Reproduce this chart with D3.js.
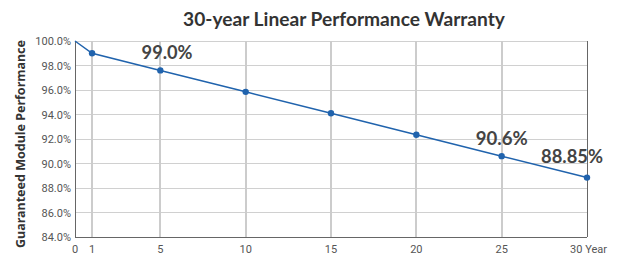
<!DOCTYPE html>
<html><head><meta charset="utf-8">
<script src="https://cdn.jsdelivr.net/npm/d3@7"></script>
<style>body{margin:0;background:#fff}</style>
</head><body>
<svg id="c" width="618" height="257"></svg>
<script>
const years = [0, 1, 5, 10, 15, 20, 25, 30];
const performance = [100, 99.0, 97.6, 95.85, 94.1, 92.35, 90.6, 88.85];
const xTicks = [0, 1, 5, 10, 15, 20, 25, 30];
const yTicks = [84, 86, 88, 90, 92, 94, 96, 98, 100];
const labels = [{year: 1, value: 99.0, text: "99.0%", dx: 75, dy: 6, w: 51}, {year: 25, value: 90.6, text: "90.6%", dx: 0, dy: -11, w: 52}, {year: 30, value: 88.85, text: "88.85%", dx: -15, dy: -15, w: 62}];
const title = "30-year Linear Performance Warranty";
const yTitle = "Guaranteed Module Performance";

const svg = d3.select("#c");
const m = {l: 75, r: 31, t: 41, b: 20};
const W = 618, H = 257;
const x = d3.scaleLinear().domain([0, 30]).range([m.l, W - m.r]);
const y = d3.scaleLinear().domain([84, 100]).range([H - m.b, m.t]);

function fitWidth(sel, target) {
  sel.each(function(d) {
    const s = d3.select(this);
    const fs = parseFloat(s.attr("font-size"));
    const w = this.getComputedTextLength();
    const t = typeof target === "function" ? target(d) : target;
    if (w > 0) s.attr("font-size", fs * t / w);
  });
}

// grid
svg.append("g").selectAll("line").data(yTicks).join("line")
  .attr("x1", x(0)).attr("x2", x(30)).attr("y1", d => y(d)).attr("y2", d => y(d))
  .attr("stroke", "#d0d0d0").attr("stroke-width", 1).attr("shape-rendering", "crispEdges");
svg.append("g").selectAll("line").data(xTicks.filter(d => d > 0 && d < 30)).join("line")
  .attr("x1", d => x(d)).attr("x2", d => x(d)).attr("y1", y(100)).attr("y2", y(84))
  .attr("stroke", "#cccccc").attr("stroke-width", 2).attr("shape-rendering", "crispEdges");
// axes lines
svg.append("line").attr("x1", x(0)).attr("x2", x(0)).attr("y1", y(100)).attr("y2", y(84))
  .attr("stroke", "#666").attr("stroke-width", 1).attr("shape-rendering", "crispEdges");
svg.append("line").attr("x1", x(30)).attr("x2", x(30)).attr("y1", y(100)).attr("y2", y(84))
  .attr("stroke", "#666").attr("stroke-width", 1).attr("shape-rendering", "crispEdges");
svg.append("line").attr("x1", x(0)).attr("x2", x(30)).attr("y1", y(84)).attr("y2", y(84))
  .attr("stroke", "#666").attr("stroke-width", 1).attr("shape-rendering", "crispEdges");

// y tick labels
svg.append("g").selectAll("text").data(yTicks).join("text")
  .attr("x", x(0) - 4).attr("y", d => y(d) + 4)
  .attr("text-anchor", "end").attr("font-family", "Roboto, sans-serif").attr("font-size", 11)
  .attr("fill", "#555").text(d => d.toFixed(1) + "%");
// x tick labels
svg.append("g").selectAll("text").data(xTicks).join("text")
  .attr("x", d => d === 30 ? x(d) + 20 : x(d)).attr("y", 253)
  .attr("text-anchor", d => d === 30 ? "end" : "middle")
  .attr("font-family", "Roboto, sans-serif").attr("font-size", 11)
  .attr("fill", "#555").text(d => d === 30 ? "30 Year" : d);

// line
svg.append("path").datum(years.map((d, i) => [d, performance[i]]))
  .attr("d", d3.line().x(d => x(d[0])).y(d => y(d[1])))
  .attr("fill", "none").attr("stroke", "#2063ad").attr("stroke-width", 1.5);
svg.append("g").selectAll("circle").data(years.map((d, i) => [d, performance[i]]).filter(d => d[0] > 0)).join("circle")
  .attr("cx", d => x(d[0])).attr("cy", d => y(d[1])).attr("r", 3.2).attr("fill", "#2063ad");

// data labels
const dl = svg.append("g").selectAll("text").data(labels).join("text")
  .attr("x", d => x(d.year) + d.dx).attr("y", d => y(d.value) + d.dy)
  .attr("text-anchor", "middle").attr("font-family", "Lato, sans-serif").attr("font-weight", "bold")
  .attr("font-size", 18).attr("fill", "#444").text(d => d.text);
fitWidth(dl, d => d.w);

// titles
const t = svg.append("text").attr("x", 344).attr("y", 25.5).attr("text-anchor", "middle")
  .attr("font-family", "Lato, sans-serif").attr("font-weight", "bold").attr("font-size", 18)
  .attr("fill", "#333").text(title);
fitWidth(t, 322);
const yt = svg.append("text").attr("transform", `translate(25,144) rotate(-90)`)
  .attr("text-anchor", "middle").attr("font-family", "'Noto Sans', sans-serif").attr("font-weight", "bold")
  .attr("font-size", 12).attr("fill", "#333").text(yTitle);
fitWidth(yt, 208);
</script>
</body></html>
